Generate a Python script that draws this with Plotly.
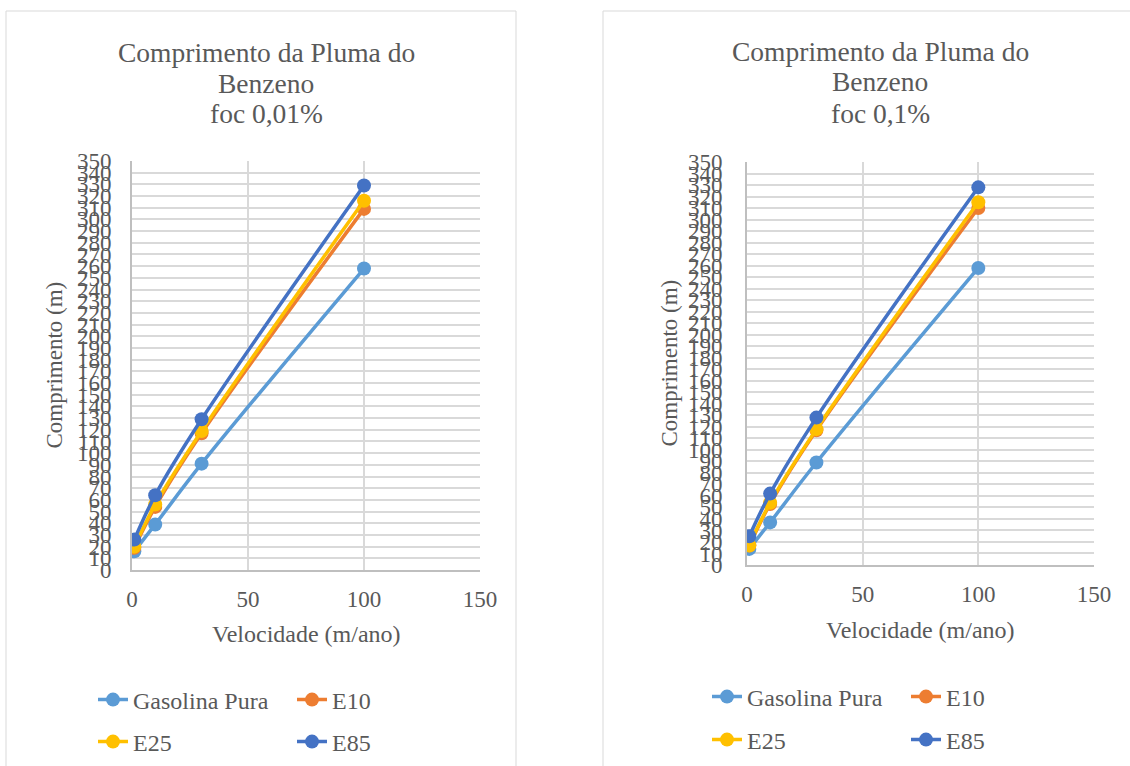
import plotly.graph_objects as go

# Groundwater velocity (m/ano) at which the plume length was evaluated
velocidade = [1, 10, 30, 100]

series_names = ["Gasolina Pura", "E10", "E25", "E85"]
series_colors = ["#5B9BD5", "#ED7D31", "#FFC000", "#4472C4"]

# Benzene plume length (m), foc 0,01%
foc001_gasolina = [16, 39, 91, 258]
foc001_e10 = [19, 54, 117, 309]
foc001_e25 = [20, 56, 119, 316]
foc001_e85 = [26, 64, 129, 329]

# Benzene plume length (m), foc 0,1%
foc01_gasolina = [14, 37, 89, 258]
foc01_e10 = [17, 53, 117, 310]
foc01_e25 = [17, 54, 118, 315]
foc01_e85 = [25, 62, 128, 328]

titles = [
    ["Comprimento da Pluma do", "Benzeno", "foc 0,01%"],
    ["Comprimento da Pluma do", "Benzeno", "foc 0,1%"],
]
y_ticks = list(range(0, 351, 10))
x_ticks = [0, 50, 100, 150]

W, H = 1130, 766
FONT = "Liberation Serif"
TXT = "#595959"
GRID = "#D9D9D9"


def px(x):
    return x / W


def py(y):
    return 1 - y / H


fig = go.Figure()

panels = [
    dict(data=[foc001_gasolina, foc001_e10, foc001_e25, foc001_e85],
         xa="x", ya="y", xdom=(132, 480), ydom=(570, 161),
         box=(6, 516), cx=266, title_y=(52, 83, 114), ystand=14,
         xtitle_y=634, legends=("legend", "legend2"), lx=93, ly=(700, 742)),
    dict(data=[foc01_gasolina, foc01_e10, foc01_e25, foc01_e85],
         xa="x2", ya="y2", xdom=(747, 1094), ydom=(565, 162),
         box=(603, 1135), cx=880, title_y=(51, 82, 113), ystand=18,
         xtitle_y=630, legends=("legend3", "legend4"), lx=707, ly=(697, 740)),
]

for p_i, p in enumerate(panels):
    for s_i, (name, color, vals) in enumerate(zip(series_names, series_colors, p["data"])):
        fig.add_trace(go.Scatter(
            x=velocidade, y=vals, name=name,
            mode="lines+markers",
            line=dict(color=color, width=3.5, shape="spline", smoothing=1.0),
            marker=dict(color=color, size=14),
            xaxis=p["xa"], yaxis=p["ya"],
            legend=p["legends"][0] if s_i < 2 else p["legends"][1],
        ))

    sfx = "" if p_i == 0 else "2"
    axis_common = dict(
        showgrid=True, gridcolor=GRID, gridwidth=1.5,
        showline=True, linecolor="#BFBFBF", linewidth=2,
        zeroline=False, ticks="",
        tickfont=dict(family=FONT, size=23, color=TXT),
        fixedrange=True,
    )
    fig.update_layout(**{
        "xaxis" + sfx: dict(
            axis_common, range=[0, 150], tickvals=x_ticks,
            domain=[px(p["xdom"][0]), px(p["xdom"][1])],
            anchor="y" + sfx, ticklabelstandoff=7,
        ),
        "yaxis" + sfx: dict(
            axis_common, range=[0, 350], tickvals=y_ticks,
            domain=[py(p["ydom"][0]), py(p["ydom"][1])],
            anchor="x" + sfx, ticklabelstandoff=p["ystand"],
        ),
    })

    # panel frame
    fig.add_shape(type="rect", xref="paper", yref="paper",
                  x0=px(p["box"][0]), x1=px(p["box"][1]),
                  y0=py(H + 20), y1=py(11),
                  line=dict(color="#D9D9D9", width=1), layer="below")

    for line_text, ty in zip(titles[p_i], p["title_y"]):
        fig.add_annotation(text=line_text, xref="paper", yref="paper",
                           x=px(p["cx"]), y=py(ty), xanchor="center", yanchor="middle",
                           showarrow=False,
                           font=dict(family=FONT, size=27.5, color=TXT))
    fig.add_annotation(text="Velocidade (m/ano)", xref="paper", yref="paper",
                       x=px((p["xdom"][0] + p["xdom"][1]) / 2), y=py(p["xtitle_y"]),
                       xanchor="center", yanchor="middle", showarrow=False,
                       font=dict(family=FONT, size=24, color=TXT))
    fig.add_annotation(text="Comprimento (m)", xref="paper", yref="paper",
                       x=px(p["xdom"][0] - 78), y=py((p["ydom"][0] + p["ydom"][1]) / 2),
                       xanchor="center", yanchor="middle", textangle=-90,
                       showarrow=False,
                       font=dict(family=FONT, size=23, color=TXT))

    leg_common = dict(orientation="h", xref="paper", yref="paper",
                      xanchor="left", yanchor="middle",
                      entrywidth=154, entrywidthmode="pixels",
                      bgcolor="rgba(0,0,0,0)",
                      font=dict(family=FONT, size=24, color=TXT),
                      itemclick=False, itemdoubleclick=False)
    fig.update_layout(**{
        p["legends"][0]: dict(leg_common, x=px(p["lx"]), y=py(p["ly"][0])),
        p["legends"][1]: dict(leg_common, x=px(p["lx"]), y=py(p["ly"][1])),
    })

fig.update_layout(
    width=W, height=H,
    margin=dict(l=0, r=0, t=0, b=0, autoexpand=False),
    paper_bgcolor="white", plot_bgcolor="white",
    showlegend=True,
)

fig.write_html("out.html")
